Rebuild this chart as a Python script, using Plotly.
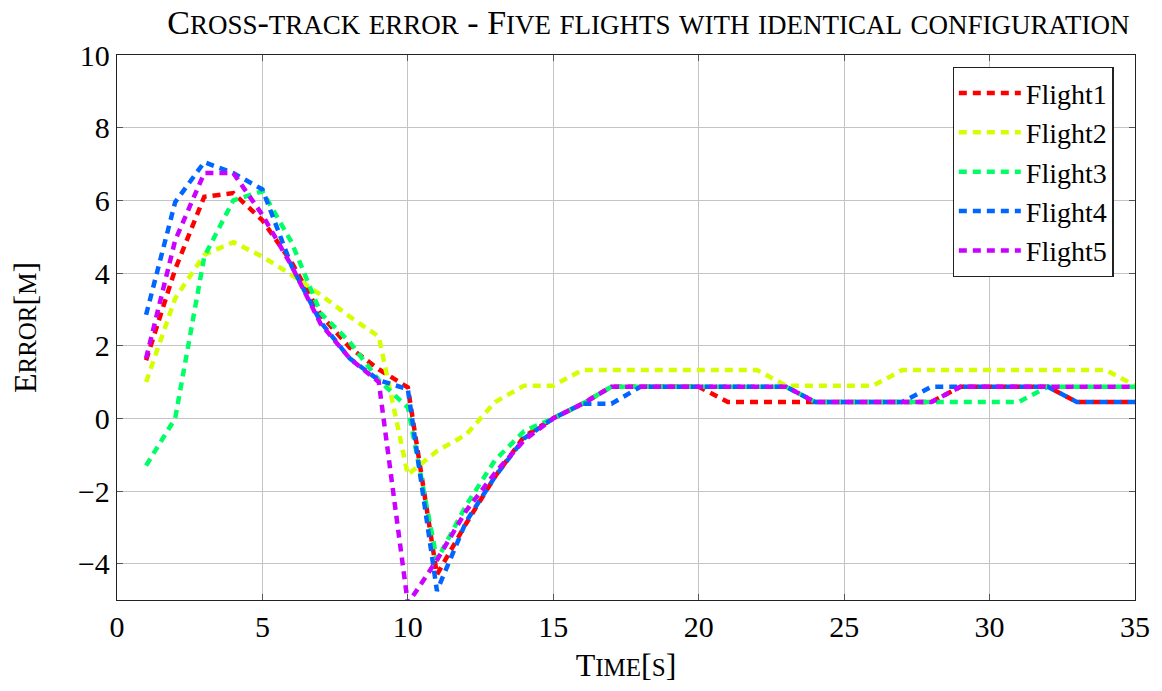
import plotly.graph_objects as go

time_s = list(range(1, 36))

flight1 = [1.6, 4.1, 6.1, 6.2, 5.45, 4.3, 2.85, 1.95, 1.35, 0.85, -4.3, -2.9, -1.6, -0.5, 0.0,
           0.4, 0.87, 0.87, 0.87, 0.87, 0.45, 0.45, 0.45, 0.45, 0.45, 0.45, 0.45, 0.45, 0.87, 0.87,
           0.87, 0.87, 0.45, 0.45, 0.45]
flight2 = [1.0, 3.3, 4.5, 4.85, 4.45, 3.95, 3.4, 2.8, 2.25, -1.55, -0.9, -0.45, 0.45, 0.9, 0.9,
           1.33, 1.33, 1.33, 1.33, 1.33, 1.33, 1.33, 0.9, 0.9, 0.9, 0.9, 1.33, 1.33, 1.33, 1.33,
           1.33, 1.33, 1.33, 1.33, 0.9]
flight3 = [-1.3, 0.0, 4.45, 6.0, 6.25, 4.85, 2.9, 2.1, 1.05, 0.3, -3.9, -2.4, -1.15, -0.35, 0.0,
           0.4, 0.87, 0.87, 0.87, 0.87, 0.87, 0.87, 0.87, 0.45, 0.45, 0.45, 0.45, 0.45, 0.45, 0.45,
           0.45, 0.87, 0.87, 0.87, 0.87]
flight4 = [2.85, 5.95, 7.05, 6.75, 6.3, 4.2, 2.65, 1.65, 1.05, 0.8, -4.75, -2.85, -1.6, -0.55, 0.0,
           0.4, 0.4, 0.87, 0.87, 0.87, 0.87, 0.87, 0.87, 0.45, 0.45, 0.45, 0.45, 0.87, 0.87, 0.87,
           0.87, 0.87, 0.45, 0.45, 0.45]
flight5 = [1.65, 4.9, 6.75, 6.75, 5.6, 4.2, 2.6, 1.65, 1.0, -5.1, -3.9, -2.55, -1.5, -0.6, 0.0,
           0.4, 0.87, 0.87, 0.87, 0.87, 0.87, 0.87, 0.87, 0.45, 0.45, 0.45, 0.45, 0.45, 0.87, 0.87,
           0.87, 0.87, 0.87, 0.87, 0.87]

series_names = ["Flight1", "Flight2", "Flight3", "Flight4", "Flight5"]
series_values = [flight1, flight2, flight3, flight4, flight5]
colors = ["#ff0000", "#d4ff00", "#00ff66", "#0066ff", "#cc00ff"]

x_ticks = [0, 5, 10, 15, 20, 25, 30, 35]
y_ticks = [-4, -2, 0, 2, 4, 6, 8, 10]
y_tick_labels = ["\u22124", "\u22122", "0", "2", "4", "6", "8", "10"]

FONT = "Liberation Serif"


def small_caps(text, big, small):
    res = ""
    buf = ""
    mode = None
    for ch in text:
        m = "small" if (ch.isalpha() and ch.islower()) else "big"
        if m != mode and buf:
            size = big if mode == "big" else small
            res += f'<span style="font-size:{size}px">{buf}</span>'
            buf = ""
        mode = m
        buf += ch.upper() if m == "small" else ch
    if buf:
        size = big if mode == "big" else small
        res += f'<span style="font-size:{size}px">{buf}</span>'
    return res


fig = go.Figure()
for name, vals, col in zip(series_names, series_values, colors):
    fig.add_trace(go.Scatter(
        x=time_s, y=vals, name=name, mode="lines",
        line=dict(color=col, width=4.5, dash="8px,6px"),
    ))

fig.update_layout(
    width=1162, height=691,
    margin=dict(l=117, r=25, t=55, b=91),
    paper_bgcolor="white", plot_bgcolor="white",
    font=dict(family=FONT, color="black", size=30),
    title=dict(
        text=small_caps("Cross-track error - Five flights with identical configuration", 34, 27),
        x=0.558, xanchor="center", y=0.985, yanchor="top",
        font=dict(family=FONT, size=34, color="black"),
    ),
    showlegend=True,
    legend=dict(
        x=0.979, xanchor="right", y=0.978, yanchor="top",
        bordercolor="#222", borderwidth=1.2, bgcolor="white",
        font=dict(family=FONT, size=28, color="black"),
        tracegroupgap=0, itemwidth=62,
    ),
)

fig.update_xaxes(
    range=[0, 35], tickvals=x_ticks, ticktext=[str(v) for v in x_ticks],
    showgrid=True, gridcolor="#c4c4c4", gridwidth=1,
    showline=True, linecolor="#222", linewidth=1.3, mirror="ticks",
    ticks="inside", ticklen=6, tickcolor="#555", tickwidth=1,
    zeroline=False,
    tickfont=dict(family=FONT, size=30),
    title=dict(text=small_caps("Time[s]", 32, 25), standoff=8, font=dict(family=FONT)),
)
fig.update_yaxes(
    range=[-5, 10], tickvals=y_ticks, ticktext=y_tick_labels,
    showgrid=True, gridcolor="#c4c4c4", gridwidth=1,
    showline=True, linecolor="#222", linewidth=1.3, mirror="ticks",
    ticks="inside", ticklen=6, tickcolor="#555", tickwidth=1,
    zeroline=False,
    tickfont=dict(family=FONT, size=30),
    title=dict(text=small_caps("Error[m]", 32, 25), standoff=30, font=dict(family=FONT)),
)

fig.write_html("out.html")
